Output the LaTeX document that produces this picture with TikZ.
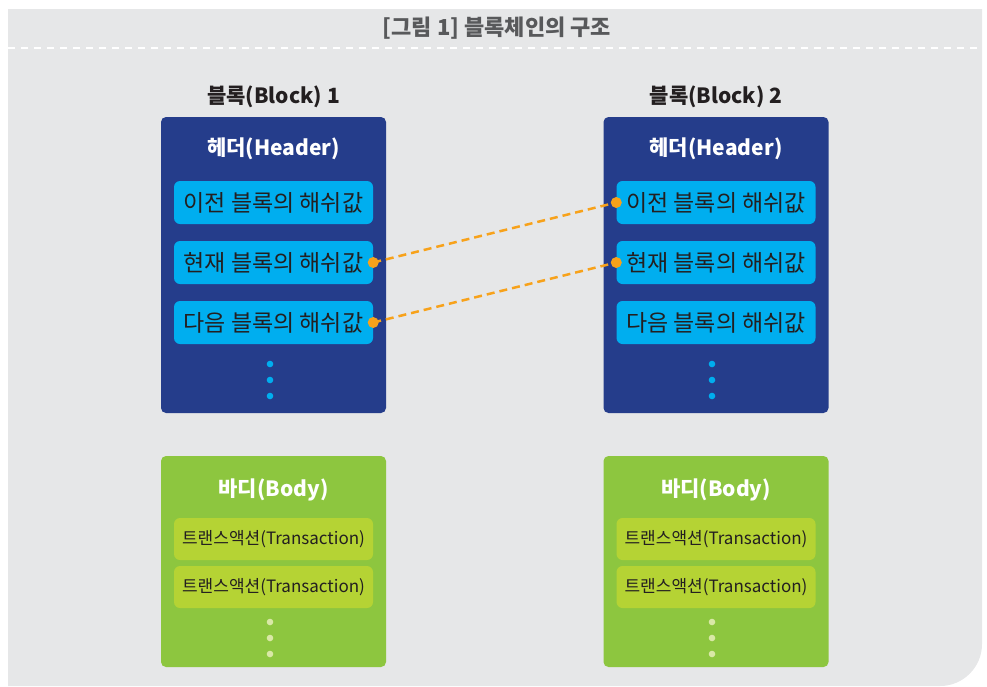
\documentclass[tikz,border=0pt]{standalone}
\usepackage{fontspec}
\setmainfont{Noto Sans CJK KR}
\usetikzlibrary{positioning}

\definecolor{panelgray}{HTML}{E6E7E8}
\definecolor{headblue}{HTML}{253D8B}
\definecolor{hashcyan}{HTML}{00AEEF}
\definecolor{bodygreen}{HTML}{8DC63F}
\definecolor{txgreen}{HTML}{B5D334}
\definecolor{dotgreen}{HTML}{D9E8A6}
\definecolor{linkorange}{HTML}{F7A21B}
\definecolor{titlegray}{HTML}{58595B}
\definecolor{inkdark}{HTML}{231F20}

\begin{document}
\begin{tikzpicture}[x=1pt, y=-1pt,
  headbox/.style={rectangle, fill=headblue, rounded corners=5pt, minimum width=225pt, minimum height=296pt, inner sep=0pt},
  bodybox/.style={rectangle, fill=bodygreen, rounded corners=5pt, minimum width=225pt, minimum height=211pt, inner sep=0pt},
  hashbox/.style={rectangle, fill=hashcyan, rounded corners=6pt, minimum width=199pt, minimum height=43pt, inner sep=0pt, text=inkdark, font=\fontsize{23}{27}\selectfont},
  txbox/.style={rectangle, fill=txgreen, rounded corners=6pt, minimum width=199pt, minimum height=42pt, inner sep=0pt, text=inkdark, font=\fontsize{17}{20}\selectfont},
  boxtitle/.style={text=white, font=\bfseries\fontsize{21}{25}\selectfont},
  blocktitle/.style={text=inkdark, font=\bfseries\fontsize{21}{25}\selectfont},
  link/.style={draw=linkorange, line width=2.5pt, dash pattern=on 8pt off 5pt}
]
\useasboundingbox (0,0) rectangle (987,686);
% panel
\fill[panelgray] (8,9) -- (982,9) [rounded corners=42pt] -- (982,686) [sharp corners] -- (8,686) -- cycle;
\draw[white, line width=2pt, dash pattern=on 7pt off 6pt] (8,48) -- (982,48);
\node[text=titlegray, font=\bfseries\fontsize{22}{26}\selectfont] (title) at (497,28) {[그림 1] 블록체인의 구조};

% block 1
\node[blocktitle] (name1) at (273.5,97) {블록(Block) 1};
\node[headbox] (head1) at (273.5,265) {};
\node[boxtitle] (htitle1) at (273.5,149) {헤더(Header)};
\node[hashbox] (prev1) at (273.5,202.5) {이전 블록의 해쉬값};
\node[hashbox] (cur1) at (273.5,262.5) {현재 블록의 해쉬값};
\node[hashbox] (next1) at (273.5,322.5) {다음 블록의 해쉬값};
\foreach \y in {364,380,396} \fill[hashcyan] (270,\y) circle (3.3pt);
\node[bodybox] (body1) at (273.5,561.5) {};
\node[boxtitle] (btitle1) at (273.5,490) {바디(Body)};
\node[txbox] (tx1a) at (273.5,539) {트랜스액션(Transaction)};
\node[txbox] (tx1b) at (273.5,587) {트랜스액션(Transaction)};
\foreach \y in {622,638,654} \fill[dotgreen] (270,\y) circle (3.3pt);

% block 2
\node[blocktitle] (name2) at (716,97) {블록(Block) 2};
\node[headbox] (head2) at (716,265) {};
\node[boxtitle] (htitle2) at (716,149) {헤더(Header)};
\node[hashbox] (prev2) at (716,202.5) {이전 블록의 해쉬값};
\node[hashbox] (cur2) at (716,262.5) {현재 블록의 해쉬값};
\node[hashbox] (next2) at (716,322.5) {다음 블록의 해쉬값};
\foreach \y in {364,380,396} \fill[hashcyan] (712,\y) circle (3.3pt);
\node[bodybox] (body2) at (716,561.5) {};
\node[boxtitle] (btitle2) at (716,490) {바디(Body)};
\node[txbox] (tx2a) at (716,539) {트랜스액션(Transaction)};
\node[txbox] (tx2b) at (716,587) {트랜스액션(Transaction)};
\foreach \y in {622,638,654} \fill[dotgreen] (712,\y) circle (3.3pt);

% hash links
\draw[link] (cur1.east) -- (prev2.west);
\draw[link] (next1.east) -- (cur2.west);
\foreach \n in {cur1.east,next1.east,prev2.west,cur2.west} \fill[linkorange] (\n) circle (5.5pt);
\end{tikzpicture}
\end{document}
